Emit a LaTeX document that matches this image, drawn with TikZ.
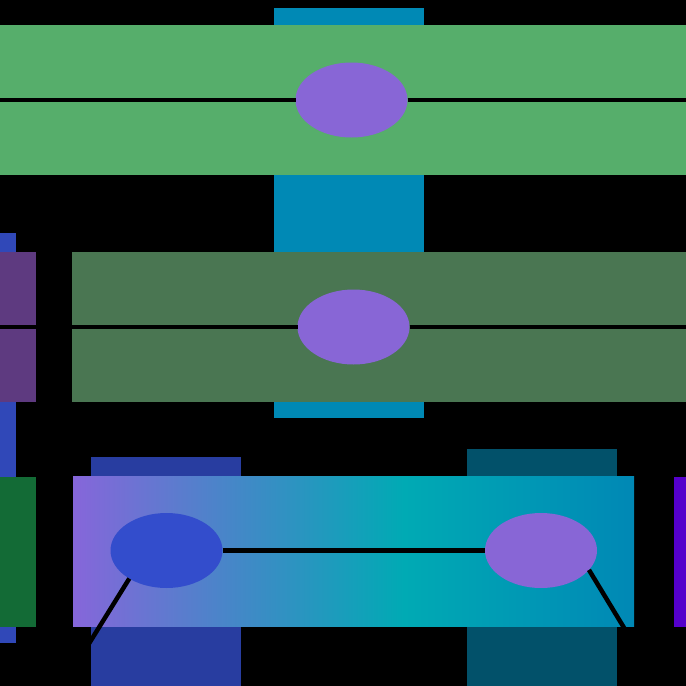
\documentclass[tikz,border=0pt]{standalone}
\usetikzlibrary{shapes.geometric}
\definecolor{pillar}{RGB}{0,137,181}
\definecolor{bandtop}{RGB}{86,174,107}
\definecolor{bandmid}{RGB}{74,118,82}
\definecolor{sidebar}{RGB}{48,72,184}
\definecolor{sidepurple}{RGB}{94,58,128}
\definecolor{sidegreen}{RGB}{19,107,54}
\definecolor{footblue}{RGB}{40,61,160}
\definecolor{footteal}{RGB}{2,81,106}
\definecolor{edgeviolet}{RGB}{85,0,204}
\definecolor{hubpurple}{RGB}{136,102,214}
\definecolor{hubblue}{RGB}{51,77,204}
\definecolor{gradL}{RGB}{134,102,218}
\definecolor{gradM}{RGB}{0,170,180}
\definecolor{gradR}{RGB}{0,136,181}
\pgfdeclarehorizontalshading{bandgrad}{100bp}{color(0bp)=(gradL); color(25bp)=(gradL); color(54.5bp)=(gradM); color(75bp)=(gradR); color(100bp)=(gradR)}
\begin{document}
\begin{tikzpicture}[x=1pt,y=-1pt]
    \useasboundingbox (0,0) rectangle (686,686);
    \fill[black] (0,0) rectangle (686,686);
    \begin{scope}[every node/.style={rectangle, draw=none, inner sep=0pt, outer sep=0pt}]
        \node[fill=pillar, minimum width=150pt, minimum height=410pt] (pillar) at (349,213) {};
        \node[fill=bandtop, minimum width=686pt, minimum height=150pt] (topband) at (343,100) {};
        \node[fill=sidebar, minimum width=16pt, minimum height=410pt] (sidebar) at (8,438) {};
        \node[fill=sidepurple, minimum width=36pt, minimum height=150pt] (sidep) at (18,327) {};
        \node[fill=bandmid, minimum width=614pt, minimum height=150pt] (midband) at (379,327) {};
        \node[fill=sidegreen, minimum width=36pt, minimum height=150pt] (sideg) at (18,552) {};
        \node[fill=footblue, minimum width=150pt, minimum height=229pt] (footl) at (166,571.5) {};
        \node[fill=footteal, minimum width=150pt, minimum height=237pt] (footr) at (542,567.5) {};
        \node[shade, shading=bandgrad, minimum width=561pt, minimum height=150pt] (lowband) at (353.5,551) {};
        \node[fill=edgeviolet, minimum width=12pt, minimum height=150pt] (edgev) at (680,552) {};
    \end{scope}
    \begin{scope}[every node/.style={ellipse, draw=none, inner sep=0pt, outer sep=0pt, minimum width=112pt, minimum height=75pt}]
        \node[fill=hubpurple] (hub1) at (351.5,100) {};
        \node[fill=hubpurple] (hub2) at (353.5,327) {};
        \node[fill=hubblue] (hub3) at (166.5,550.5) {};
        \node[fill=hubpurple] (hub4) at (541,550.5) {};
    \end{scope}
    \coordinate (w1) at (0,100);
    \coordinate (w2) at (686,100);
    \coordinate (w3) at (0,327);
    \coordinate (w4) at (686,327);
    \coordinate (w5) at (85,650);
    \coordinate (w6) at (629,636);
    \begin{scope}[every edge/.style={draw, black, line width=4.5pt}]
        \path [-] (w1) edge (hub1) (hub1) edge (w2);
        \path [-] (w3) edge (hub2) (hub2) edge (w4);
        \path [-] (hub3) edge (hub4);
        \path [-] (hub3.217) edge (w5);
        \path [-] (hub4.-22.5) edge (w6);
    \end{scope}
\end{tikzpicture}
\end{document}
